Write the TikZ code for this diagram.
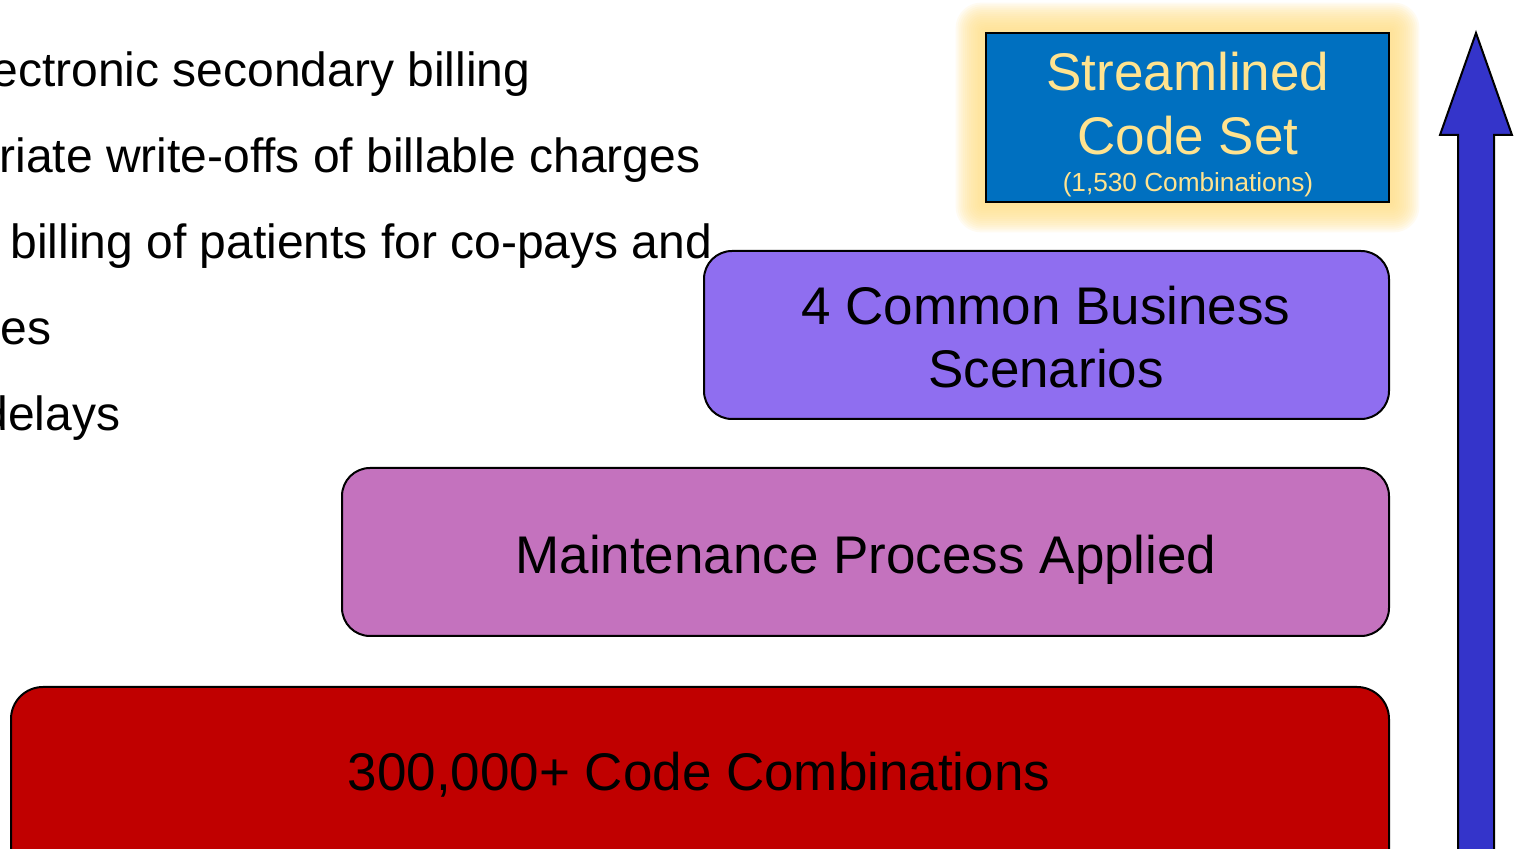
\documentclass[tikz,border=0pt]{standalone}
\usepackage{fontspec}
\setmainfont{Liberation Sans}
\definecolor{boxblue}{HTML}{0070C0}
\definecolor{glowyellow}{HTML}{FFE38F}
\definecolor{textyellow}{HTML}{FFE38F}
\definecolor{boxpurple}{HTML}{8F6EF0}
\definecolor{boxmagenta}{HTML}{C472BE}
\definecolor{boxred}{HTML}{C00000}
\definecolor{arrowblue}{HTML}{3434CA}
\tikzset{
  bullettext/.style={anchor=base west, inner sep=0pt, font=\fontsize{24}{28}\selectfont},
  boxtext/.style={anchor=base, inner sep=0pt, font=\fontsize{26.5}{31.5}\selectfont},
  smalltext/.style={anchor=base, inner sep=0pt, font=\fontsize{13.1}{15}\selectfont, text=textyellow},
  stagebox/.style={draw=black, line width=1pt, rounded corners=14pt, inner sep=0pt},
}
\begin{document}
\begin{tikzpicture}[x=0.5pt,y=-0.5pt]
\useasboundingbox (0,0) rectangle (1517,849);
\clip (0,0) rectangle (1517,849);
\fill[white] (0,0) rectangle (1517,849);

% left text (cropped at the left edge, as in the reference)
\node[bullettext] (t1) at (-9,87) {ectronic secondary billing};
\node[bullettext] (t2) at (-1,173) {riate write-offs of billable charges};
\node[bullettext] (t3) at (10,259) {billing of patients for co-pays and};
\node[bullettext] (t4) at (0,345) {es};
\node[bullettext] (t5) at (-19,431) {delays};

% soft glow around streamlined box
\foreach \i in {1,...,16}{
  \fill[glowyellow, opacity=0.12, rounded corners=\i*0.8pt]
    (986-\i*1.9,33-\i*1.9) rectangle (1389+\i*1.9,202+\i*1.9);
}

% boxes
\node[draw=black, line width=0.8pt, fill=boxblue, minimum width=201.5pt, minimum height=84.5pt, inner sep=0pt] (sbox) at (1187.5,117.5) {};
\node[stagebox, fill=boxpurple, minimum width=342.5pt, minimum height=84pt] (pbox) at (1046.5,335) {};
\node[stagebox, fill=boxmagenta, minimum width=523.5pt, minimum height=84pt] (mbox) at (865.5,552) {};
\node[stagebox, rounded corners=16pt, fill=boxred, minimum width=689pt, minimum height=130pt, anchor=north] (rbox) at (700,686) {};

% box texts
\node[boxtext, text=textyellow] (s1) at (1188,91) {Streamlined};
\node[boxtext, text=textyellow] (s2) at (1188,155) {Code Set};
\node[smalltext] (s3) at (1188,192) {(1,530 Combinations)};
\node[boxtext] (p1) at (1046,325) {4 Common Business};
\node[boxtext] (p2) at (1046,388) {Scenarios};
\node[boxtext] (m1) at (866,574) {Maintenance Process Applied};
\node[boxtext] (r1) at (699,791) {300,000+ Code Combinations};

% big upward arrow
\draw[fill=arrowblue, line width=1pt, line join=miter]
  (1458,900) -- (1458,135) -- (1440,135) -- (1476,33) -- (1512,135)
  -- (1494,135) -- (1494,900) -- cycle;
\end{tikzpicture}
\end{document}
